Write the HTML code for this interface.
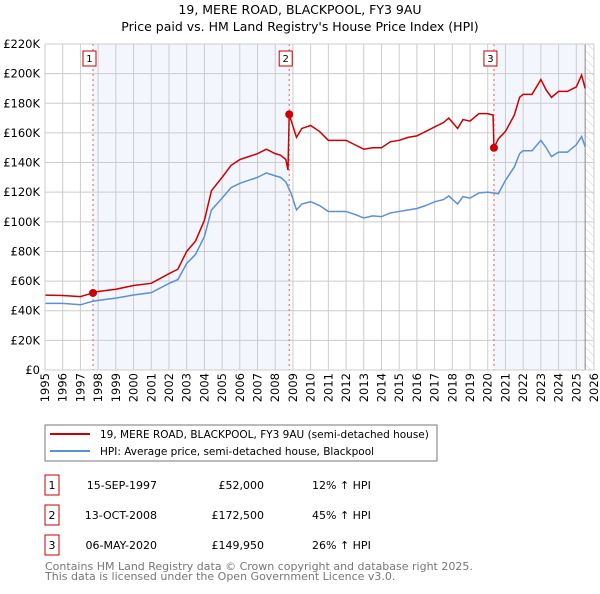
<!DOCTYPE html>
<html><head><meta charset="utf-8"><style>
body{margin:0;background:#fff;font-family:"DejaVu Sans","Liberation Sans",sans-serif;}
svg text{font-family:"DejaVu Sans","Liberation Sans",sans-serif;}
</style></head><body>
<svg id="chart" width="600" height="590" xmlns="http://www.w3.org/2000/svg">
<defs><pattern id="hatch" width="6" height="6" patternUnits="userSpaceOnUse" patternTransform="rotate(-45)"><line x1="0" y1="0" x2="0" y2="6" stroke="#ccc" stroke-width="1"/></pattern></defs>
<text x="300" y="14" text-anchor="middle" font-size="12.5">19, MERE ROAD, BLACKPOOL, FY3 9AU</text>
<text x="300" y="31" text-anchor="middle" font-size="12.5">Price paid vs. HM Land Registry's House Price Index (HPI)</text>
<g id="plot"></g>
<rect x="45" y="425" width="392" height="36" fill="#fff" stroke="#777"/>
<line x1="50" y1="434" x2="90" y2="434" stroke="#cc0000" stroke-width="2"/>
<text x="100" y="438" font-size="10.5">19, MERE ROAD, BLACKPOOL, FY3 9AU (semi-detached house)</text>
<line x1="50" y1="451" x2="90" y2="451" stroke="#5b8fd6" stroke-width="2"/>
<text x="100" y="455" font-size="10.5">HPI: Average price, semi-detached house, Blackpool</text>
<g id="table" font-size="11"></g>
<text x="45" y="570" font-size="11" fill="#777">Contains HM Land Registry data © Crown copyright and database right 2025.</text>
<text x="45" y="580" font-size="11" fill="#777">This data is licensed under the Open Government Licence v3.0.</text>
</svg>
<script>
const yearTicks=[1995,1996,1997,1998,1999,2000,2001,2002,2003,2004,2005,2006,2007,2008,2009,2010,2011,2012,2013,2014,2015,2016,2017,2018,2019,2020,2021,2022,2023,2024,2025,2026];
const valueTicks=[0,20,40,60,80,100,120,140,160,180,200,220];
const hpiYears=[1995,1996,1997,1997.7,1998,1999,2000,2001,2002,2002.5,2003,2003.5,2004,2004.4,2005,2005.5,2006,2006.5,2007,2007.5,2008,2008.3,2008.6,2008.9,2009.2,2009.5,2010,2010.5,2011,2011.5,2012,2012.5,2013,2013.5,2014,2014.5,2015,2015.5,2016,2016.5,2017,2017.5,2017.8,2018.3,2018.6,2019,2019.5,2020,2020.35,2020.6,2021,2021.5,2021.8,2022,2022.5,2023,2023.3,2023.6,2024,2024.5,2025,2025.3,2025.5];
const hpiValues=[45,45,44,46.4,47,48.5,50.6,52.2,58.4,61,71.9,78,90,108,116,123,126,128,130,133,131,130,127,119,108,112,113.6,111,107,107,107,105,102.6,104,103.5,106,107,108,109,111,113.5,115,117.5,112,117,116,119.5,120,119.4,119,128,137,146,148,148,155,150,144,147,147,152,157.5,150.7];
const priceYears=[1995,1996,1997,1997.7,1998,1999,2000,2001,2002,2002.5,2003,2003.5,2004,2004.4,2005,2005.5,2006,2006.5,2007,2007.5,2008,2008.3,2008.6,2008.72,2008.79,2009.2,2009.5,2010,2010.5,2011,2011.5,2012,2012.5,2013,2013.5,2014,2014.5,2015,2015.5,2016,2016.5,2017,2017.5,2017.8,2018.3,2018.6,2019,2019.5,2020,2020.3,2020.35,2020.6,2021,2021.5,2021.8,2022,2022.5,2023,2023.3,2023.6,2024,2024.5,2025,2025.3,2025.5];
const priceValues=[50.5,50.3,49.5,52,53,54.5,57,58.5,65,68,80,87,101,121,130,138,142,144,146,149,146,145,142,135,172.5,157,163,165,161,155,155,155,152,149,150,150,154,155,157,158,161,164,167,170,163,169,168,173,173,172,149.95,156,161,172,184,186,186,196,189,184,188,188,191,199,190];
const saleYears=[1997.71,2008.79,2020.35];
const saleValues=[52,172.5,149.95];
const saleLabels=["1","2","3"];
const saleDates=["15-SEP-1997","13-OCT-2008","06-MAY-2020"];
const salePrices=["£52,000","£172,500","£149,950"];
const saleDiffs=["12% ↑ HPI","45% ↑ HPI","26% ↑ HPI"];
const NS="http://www.w3.org/2000/svg";
const L=45,R=594,T=44,B=370;
const x=y=>L+(y-1995)*(R-L)/31;
const yv=v=>B-v*(B-T)/220;
function mk(tag,attrs,parent){const e=document.createElementNS(NS,tag);for(const k in attrs)e.setAttribute(k,attrs[k]);parent.appendChild(e);return e;}
const g=document.getElementById('plot');
let r=mk('rect',{x:x(saleYears[0]),y:T,width:x(saleYears[1])-x(saleYears[0]),height:B-T,fill:'#f3f6fd'},g);


r=mk('rect',{x:x(saleYears[2]),y:T,width:x(2025.5)-x(saleYears[2]),height:B-T,fill:'#f3f6fd'},g);


r=mk('rect',{x:x(2025.5),y:T,width:R-x(2025.5),height:B-T,fill:'url(#hatch)'},g);


yearTicks.forEach(t=>{const l=mk('line',{x1:x(t),x2:x(t),y1:T,y2:B,stroke:'#ccc','stroke-width':1},g);


const tx=mk('text',{x:0,y:0,'text-anchor':'end','font-size':11.5,transform:'translate('+(x(t)+4)+','+(B+3)+') rotate(-90)'},g);tx.textContent=t;

});
valueTicks.forEach(v=>{const l=mk('line',{x1:L,x2:R,y1:yv(v),y2:yv(v),stroke:'#ccc','stroke-width':1},g);


const tx=mk('text',{x:L-5,y:yv(v)+4,'text-anchor':'end','font-size':11.5},g);tx.textContent=v===0?'£0':'£'+v+'K';

});
let vl=mk('line',{x1:x(2025.5),x2:x(2025.5),y1:T,y2:B,stroke:'#888','stroke-width':1},g);


saleYears.forEach((s,i)=>{const l=mk('line',{x1:x(s),x2:x(s),y1:T,y2:B,stroke:'#e55','stroke-width':1,'stroke-dasharray':'2,3'},g);

});
const hp=mk('polyline',{points:hpiYears.map((t,i)=>x(t)+','+yv(hpiValues[i])).join(' '),fill:'none',stroke:'#5b8fd6','stroke-width':1.5},g);


const pp=mk('polyline',{points:priceYears.map((t,i)=>x(t)+','+yv(priceValues[i])).join(' '),fill:'none',stroke:'#cc0000','stroke-width':1.5},g);


saleYears.forEach((s,i)=>{const c=mk('circle',{cx:x(s),cy:yv(saleValues[i]),r:4,fill:'#cc0000'},g);


const b=mk('rect',{x:x(s)-10,y:51,width:13,height:15,fill:'#fff',stroke:'#cc0000'},g);


const t=mk('text',{x:x(s)-3.5,y:62,'text-anchor':'middle','font-size':10},g);t.textContent=saleLabels[i];

});
let ax=mk('rect',{x:L,y:T,width:R-L,height:B-T,fill:'none',stroke:'#ccc'},g);


const tb=document.getElementById('table');
saleLabels.forEach((s,i)=>{const yy=483+i*30;
const b=mk('rect',{x:45,y:yy-8,width:14,height:20,fill:'#fff',stroke:'#cc0000'},tb);


const cells=[[52,s,'middle'],[157,saleDates[i],'end'],[264,salePrices[i],'end'],[312,saleDiffs[i],'start']];
cells.forEach(c=>{const t=mk('text',{x:c[0],y:yy+6,'text-anchor':c[2]},tb);t.textContent=c[1];

});});
</script>
</body></html>
